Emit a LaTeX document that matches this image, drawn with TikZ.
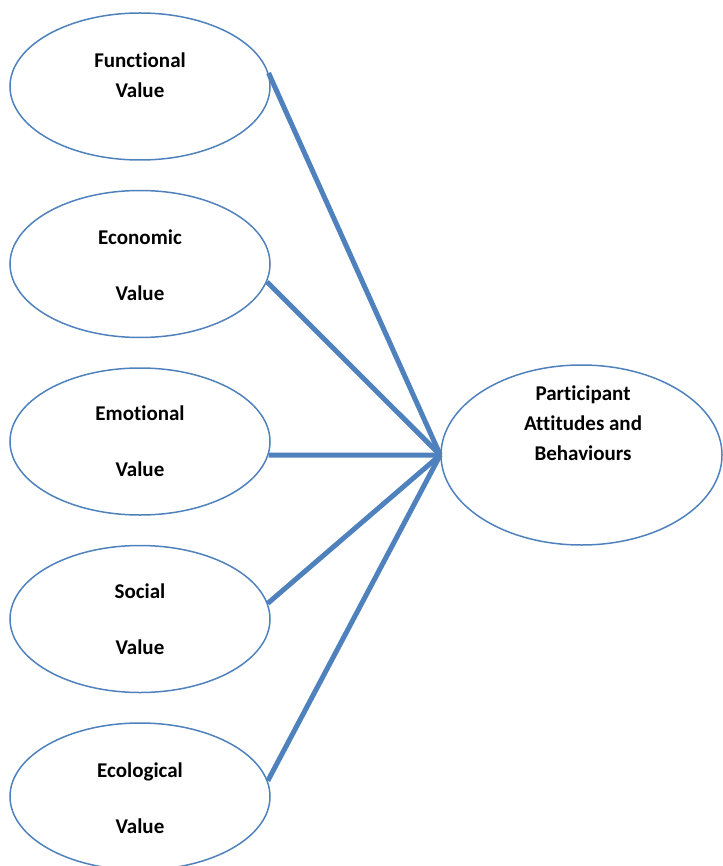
\documentclass[tikz,border=0pt]{standalone}
\usepackage{fontspec}
\setmainfont{Carlito}[Ligatures=NoCommon]
\usetikzlibrary{shapes.geometric}
\definecolor{officeblue}{RGB}{79,129,189}
\tikzset{
    valuebubble/.style={ellipse, draw=officeblue, line width=1.5pt, minimum width=260pt, minimum height=147pt, inner sep=0pt},
    outcomebubble/.style={ellipse, draw=officeblue, line width=1.5pt, minimum width=281pt, minimum height=180pt, inner sep=0pt},
    bubbletext/.style={font=\bfseries\fontsize{21}{30}\selectfont, align=center, inner sep=0pt},
    link/.style={draw=officeblue, line width=5pt},
    common settings/.style={x=1pt, y=-1pt}
}
\begin{document}
\begin{tikzpicture}[common settings]
    \useasboundingbox (0,0) rectangle (722,866);

    % Value bubbles (left column)
    \node[valuebubble] (fv)  at (140,86.5)  {};
    \node[valuebubble] (ecv) at (140,264)   {};
    \node[valuebubble] (emv) at (140,441.5) {};
    \node[valuebubble] (sv)  at (140,619)   {};
    \node[valuebubble] (elv) at (140,796.5) {};

    % Outcome bubble
    \node[outcomebubble] (pab) at (581.5,455) {};

    % Labels
    \node[bubbletext] (fvtext)  at (140,75)    {Functional\\Value};
    \node[bubbletext] (ecvtext) at (140,265)   {Economic\\[26pt]Value};
    \node[bubbletext] (emvtext) at (140,441.5) {Emotional\\[26pt]Value};
    \node[bubbletext] (svtext)  at (140,619.5) {Social\\[26pt]Value};
    \node[bubbletext] (elvtext) at (140,798.5) {Ecological\\[26pt]Value};
    \node[bubbletext] (pabtext) at (583,423)   {Participant\\Attitudes and\\Behaviours};

    % Links into the outcome
    \foreach \src/\ang in {fv/6.5, ecv/-8, emv/-6.5, sv/7, elv/7}
        \draw[link] (\src.\ang) -- (pab.west);

\end{tikzpicture}
\end{document}
